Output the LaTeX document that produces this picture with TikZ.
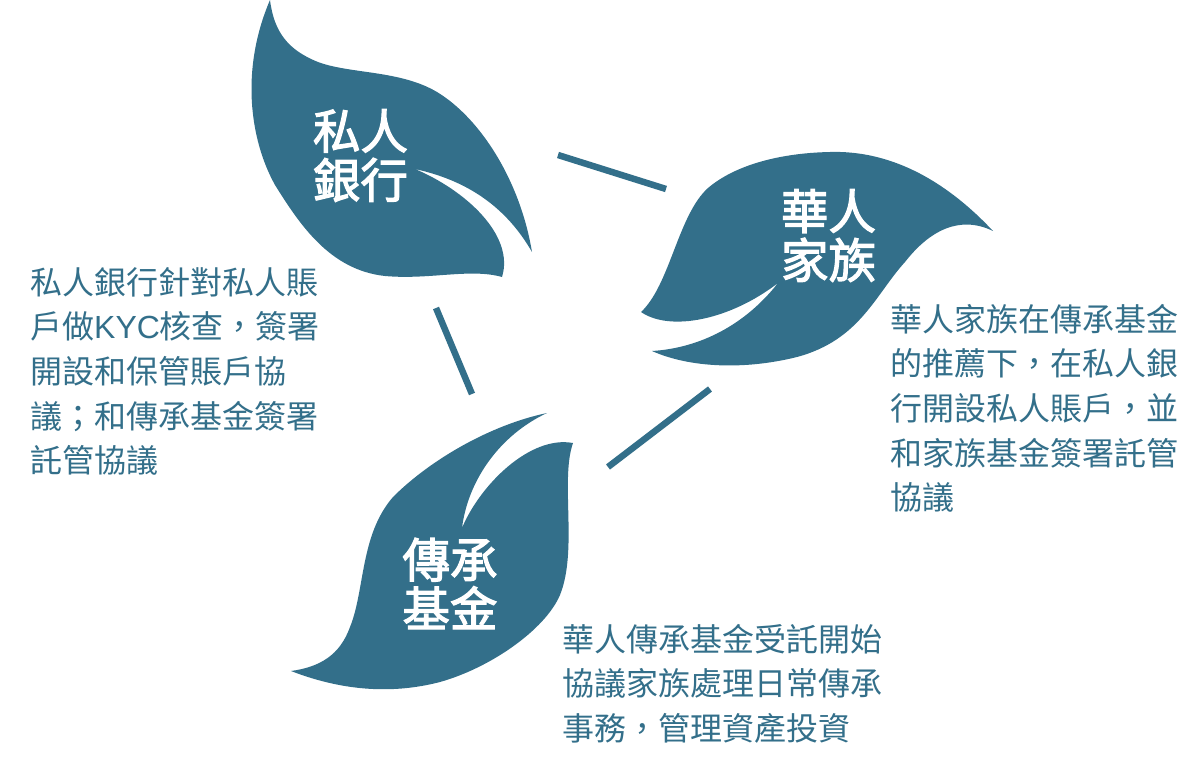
\documentclass[tikz,border=0pt]{standalone}
\usepackage{fontspec}
\setmainfont{Noto Sans CJK TC}
\newfontfamily\titlefont[FakeBold=2.5]{Noto Sans CJK TC}
\newfontfamily\latinfont{Liberation Sans}
\definecolor{leafblue}{HTML}{336F8A}
\tikzset{
  leaf/.style={fill=leafblue,draw=none},
  link/.style={-,line width=6.5pt,draw=leafblue},
  title/.style={text=white,inner sep=0,align=center,font=\fontsize{47.5}{49}\selectfont\titlefont},
  desc/.style={text=leafblue,inner sep=0,anchor=north west,align=left,font=\fontsize{32}{44.6}\selectfont},
}
\begin{document}
\begin{tikzpicture}[x=1pt,y=-1pt]
        \useasboundingbox (0,0) rectangle (1202,776);

        % leaves
        \path[leaf] (270,0) .. controls (274,32) and (288,50) .. (318,62)
            .. controls (350,74) and (400,70) .. (437,92)
            .. controls (480,118) and (520,180) .. (532,252)
            .. controls (505,205) and (465,180) .. (415,169)
            .. controls (465,190) and (515,235) .. (502,277)
            .. controls (470,268) and (430,280) .. (385,276)
            .. controls (330,270) and (300,225) .. (275,185)
            .. controls (250,140) and (240,70) .. (270,0) -- cycle;
        \path[leaf] (993,231) .. controls (950,185) and (895,150) .. (830,152)
            .. controls (780,153) and (735,165) .. (708,188)
            .. controls (678,215) and (670,285) .. (641,312)
            .. controls (670,332) and (730,320) .. (778,283)
            .. controls (745,325) and (700,348) .. (652,351)
            .. controls (690,368) and (745,370) .. (797,357)
            .. controls (860,340) and (875,295) .. (905,262)
            .. controls (930,230) and (960,215) .. (993,231) -- cycle;
        \path[leaf] (547,413) .. controls (490,425) and (430,460) .. (393,497)
            .. controls (360,535) and (365,590) .. (350,627)
            .. controls (340,655) and (320,667) .. (291,671)
            .. controls (340,690) and (390,695) .. (440,682)
            .. controls (490,668) and (545,630) .. (560,595)
            .. controls (578,550) and (560,480) .. (573,443)
            .. controls (530,435) and (480,485) .. (462,528)
            .. controls (468,480) and (500,435) .. (547,413) -- cycle;

        % leaf titles
        \node[title] (bank) at (360.5,155.5) {私人\\銀行};
        \node[title] (family) at (828.5,235.5) {華人\\家族};
        \node[title] (fund) at (450,583.5) {傳承\\基金};

        % descriptions
        \node[desc] (bankdesc) at (30,267) {私人銀行針對私人賬\\戶做{\latinfont KYC}核查，簽署\\開設和保管賬戶協\\議；和傳承基金簽署\\託管協議};
        \node[desc] (familydesc) at (890,304) {華人家族在傳承基金\\的推薦下，在私人銀\\行開設私人賬戶，並\\和家族基金簽署託管\\協議};
        \node[desc] (funddesc) at (562,624) {華人傳承基金受託開始\\協議家族處理日常傳承\\事務，管理資產投資};

        % links
        \coordinate (a1) at (558,155);
        \coordinate (a2) at (666,189);
        \coordinate (b1) at (436,308);
        \coordinate (b2) at (472,394);
        \coordinate (c1) at (608,467);
        \coordinate (c2) at (710,389);
        \path[link] (a1) edge (a2);
        \path[link] (b1) edge (b2);
        \path[link] (c1) edge (c2);

\end{tikzpicture}
\end{document}
